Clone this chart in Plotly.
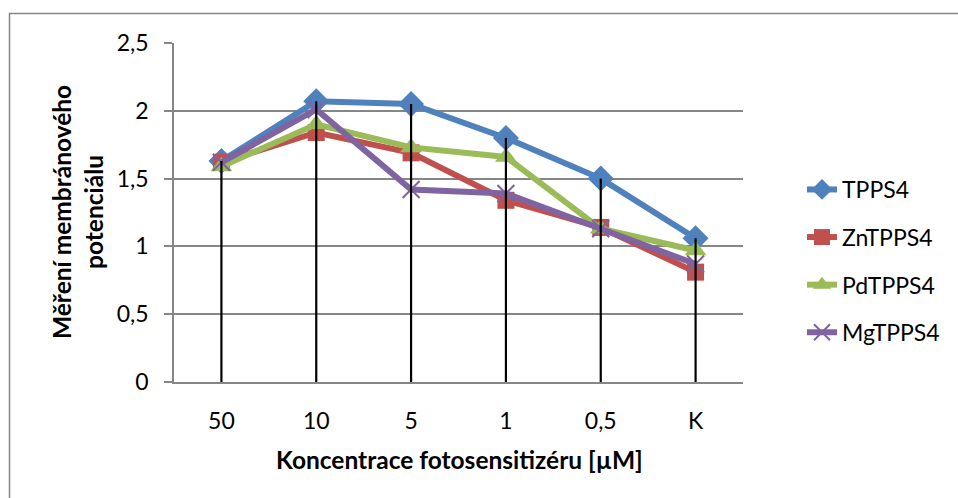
import plotly.graph_objects as go

categories = ["50", "10", "5", "1", "0,5", "K"]
tpps4 = [1.63, 2.07, 2.05, 1.80, 1.50, 1.06]
zntpps4 = [1.62, 1.84, 1.69, 1.34, 1.14, 0.81]
pdtpps4 = [1.59, 1.90, 1.73, 1.66, 1.13, 0.97]
mgtpps4 = [1.62, 2.01, 1.42, 1.39, 1.13, 0.87]

series = [
    ("TPPS4", tpps4, "#4F81BD", "diamond", 20),
    ("ZnTPPS4", zntpps4, "#C0504D", "square", 17),
    ("PdTPPS4", pdtpps4, "#9BBB59", "triangle-up", 19),
    ("MgTPPS4", mgtpps4, "#8064A2", "x-thin", 17),
]

FONT = "Lato"
TS = 23

fig = go.Figure()
for i, (name, vals, col, sym, sz) in enumerate(series):
    if sym == "x-thin":
        marker = dict(symbol=sym, size=sz, color=col, line=dict(color=col, width=2))
    else:
        marker = dict(symbol=sym, size=sz, color=col)
    fig.add_trace(go.Scatter(
        x=categories, y=vals, name=name, mode="lines+markers",
        line=dict(color=col, width=6), marker=marker,
        legendgroup=f"g{i}",
    ))

# drop lines from the highest value of each category down to the axis
dx, dy = [], []
for j, c in enumerate(categories):
    top = max(s[1][j] for s in series)
    dx += [c, c, None]
    dy += [top, 0, None]
fig.add_trace(go.Scatter(x=dx, y=dy, mode="lines", line=dict(color="black", width=2.2),
                         showlegend=False, hoverinfo="skip"))

L, R, T, B = 174, 215, 43, 116
W, H = 958, 498
pw, ph = W - L - R, H - T - B

def px(x):
    return (x - L) / pw

def py(y):
    return (H - B - y) / ph

fig.update_layout(
    width=W, height=H,
    margin=dict(l=L, r=R, t=T, b=B),
    paper_bgcolor="white", plot_bgcolor="white",
    separators=", ",
    font=dict(family=FONT, size=TS, color="black"),
    showlegend=True,
    legend=dict(x=px(802), y=py(168), xanchor="left", yanchor="top",
                font=dict(family=FONT, size=TS), tracegroupgap=14.7,
                bgcolor="rgba(0,0,0,0)"),
    xaxis=dict(type="category", range=[-0.5, 5.5], showgrid=False,
               showline=True, linecolor="#868686", linewidth=1.5,
               ticks="", ticklabelstandoff=18,
               tickfont=dict(family=FONT, size=TS)),
    yaxis=dict(range=[0, 2.5], dtick=0.5, tick0=0, showgrid=True,
               gridcolor="#868686", gridwidth=1.5,
               showline=True, linecolor="#868686", linewidth=1.5,
               ticks="outside", ticklen=8, tickcolor="#868686", tickwidth=1.5,
               ticklabelstandoff=11, zeroline=False,
               tickfont=dict(family=FONT, size=TS)),
    annotations=[
        dict(text="<b>Koncentrace fotosensitizéru [µM]</b>", xref="paper", yref="paper",
             x=px(459), y=py(460), xanchor="center", yanchor="middle", showarrow=False,
             font=dict(family=FONT, size=24.5)),
        dict(text="<b>Měření membránového<br>potenciálu</b>", xref="paper", yref="paper",
             x=px(77), y=py(212), xanchor="center", yanchor="middle", showarrow=False,
             textangle=-90, font=dict(family=FONT, size=24.5)),
    ],
    shapes=[
        dict(type="rect", xref="paper", yref="paper",
             x0=px(9.5), x1=px(962), y0=py(504), y1=py(13.5),
             line=dict(color="#868686", width=1.5), layer="below"),
    ],
)

fig.write_html("out.html")
